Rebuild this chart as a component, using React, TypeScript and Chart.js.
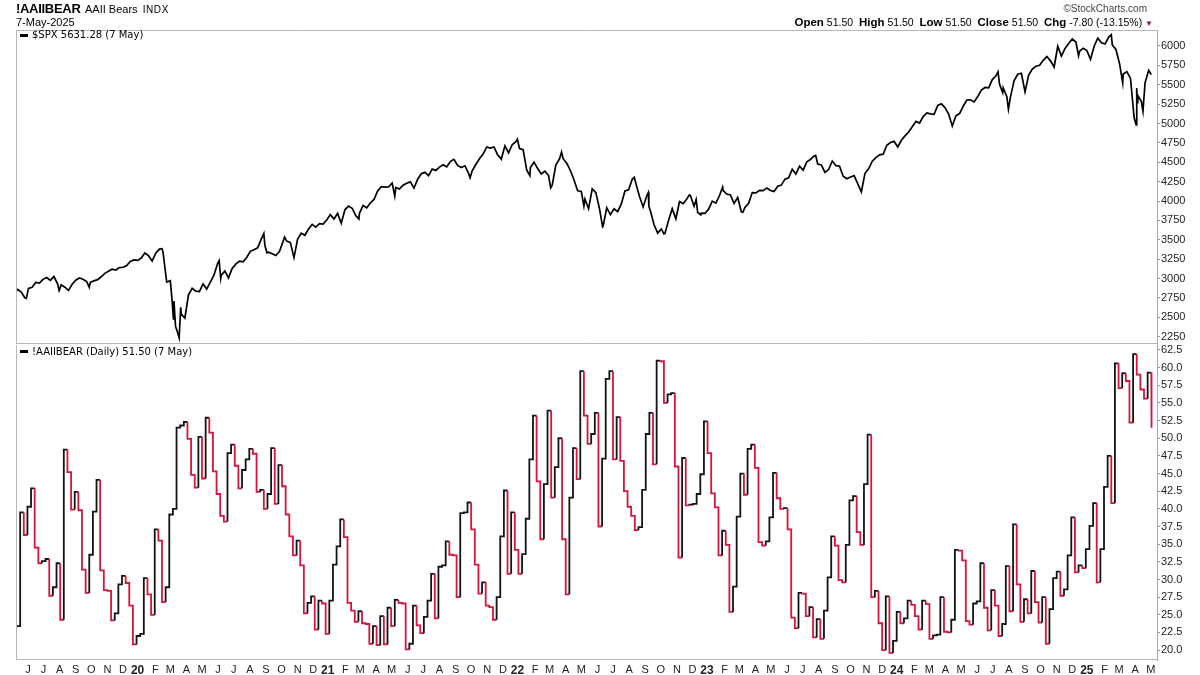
import React, { useEffect, useRef } from 'react';
import { Chart, registerables } from 'chart.js';
Chart.register(...registerables);

// ---------- data ----------
const chartStartDate = '2019-05-14';
const chartSpanDays = 2196;

// S&P 500 weekly closes (Fridays) from 2019-05-17
const spxFirstFriday = '2019-05-17';
const spxWeekly = [
  2860, 2826, 2752, 2873, 2887, 2950, 2942, 2990, 3014, 2977, 3026, 2932, 2919, 2889, 2847, 2926, 2979, 3007, 2992, 2962, 2952, 2970, 2986, 3023, 3067, 3093, 3120, 3110, 3141, 3146, 3169, 3221, 3240,
  3235, 3265, 3330, 3295, 3226, 3328, 3380, 3338, 2954, 2972, 2711, 2305, 2541, 2489, 2790, 2875, 2837, 2831, 2930, 2864, 2955, 3044, 3194, 3041, 3098, 3009, 3130, 3185, 3225, 3216, 3271, 3351, 3373, 3397, 3508, 3427, 3341, 3319, 3298, 3348, 3477, 3484, 3465, 3270, 3509, 3585, 3558, 3638, 3699, 3663, 3709, 3703, 3756,
  3825, 3768, 3841, 3714, 3887, 3935, 3907, 3811, 3842, 3943, 3913, 3975, 4020, 4129, 4185, 4180, 4181, 4233, 4174, 4156, 4204, 4230, 4247, 4166, 4281, 4352, 4370, 4327, 4412, 4395, 4437, 4468, 4442, 4509, 4535, 4459, 4433, 4455, 4357, 4391, 4471, 4545, 4605, 4698, 4683, 4698, 4595, 4538, 4712, 4621, 4726, 4766,
  4677, 4663, 4398, 4432, 4501, 4419, 4349, 4385, 4329, 4204, 4463, 4543, 4546, 4488, 4393, 4272, 4132, 4123, 4024, 3901, 4158, 4109, 3901, 3675, 3912, 3825, 3899, 3863, 3962, 4130, 4145, 4280, 4228, 4058, 3924, 4067, 3873, 3693, 3586, 3640, 3583, 3753, 3901, 3771, 3993, 3965, 4026, 4072, 3934, 3852, 3845, 3840,
  3895, 3999, 3973, 4071, 4136, 4090, 4079, 3970, 4046, 3862, 3917, 3971, 4109, 4105, 4138, 4134, 4169, 4136, 4124, 4192, 4205, 4282, 4299, 4410, 4348, 4450, 4399, 4505, 4536, 4582, 4478, 4464, 4370, 4406, 4516, 4457, 4450, 4320, 4288, 4309, 4328, 4224, 4117, 4358, 4415, 4514, 4559, 4595, 4604, 4719, 4755, 4770,
  4697, 4784, 4840, 4891, 4959, 5027, 5006, 5089, 5137, 5124, 5117, 5234, 5254, 5204, 5123, 4967, 5100, 5128, 5223, 5303, 5305, 5278, 5347, 5432, 5465, 5460, 5567, 5615, 5505, 5459, 5347, 5344, 5554, 5635, 5648, 5408, 5626, 5703, 5738, 5751, 5815, 5865, 5808, 5729, 5996, 5871, 5969, 6032, 6090, 6051, 5931, 5971,
  5942, 5827, 5997, 6101, 6041, 6026, 6115, 6013, 5955, 5770, 5639, 5668, 5581, 5074, 5363, 5283, 5525, 5687,
];
// extra daily closes (turning points)
const spxExtraDates = [
  '2019-05-14', '2019-06-03', '2019-08-05', '2019-10-02', '2020-02-19', '2020-03-09', '2020-03-12', '2020-03-16', '2020-03-23', '2020-03-26',
  '2020-06-08', '2020-06-11', '2020-09-02', '2020-09-08', '2020-10-12', '2021-03-04', '2021-05-12', '2021-09-02', '2021-10-04', '2021-11-30',
  '2022-01-03', '2022-01-27', '2022-03-08', '2022-03-29', '2022-05-11', '2022-06-16', '2022-08-16', '2022-09-12', '2022-09-13', '2022-10-12',
  '2022-11-30', '2022-12-13', '2022-12-22', '2023-02-02', '2023-03-13', '2023-07-31', '2024-07-16', '2024-07-25', '2024-08-05', '2024-12-18',
  '2025-02-19', '2025-03-13', '2025-04-08', '2025-04-09', '2025-04-10', '2025-04-21', '2025-05-07',
];
const spxExtraValues = [
  2834, 2744, 2845, 2888, 3386, 2747, 2481, 2386, 2237, 2630,
  3232, 3002, 3581, 3332, 3534, 3768, 4063, 4537, 4300, 4567,
  4797, 4327, 4171, 4632, 3935, 3667, 4305, 4110, 3933, 3577,
  4080, 4020, 3822, 4180, 3856, 4589, 5667, 5399, 5186, 5872,
  6144, 5522, 4983, 5457, 5268, 5158, 5631,
];

// AAII bears (%), weekly readings ending 2025-05-07
const bearsInitial = 23.4;
const bearsFirstDate = '2019-05-22';
const bearsWeekly = [
  39.5, 36.3, 40.3, 42.9, 34.5, 32.3, 32.6, 32.9, 27.7, 28.9,
  32.3, 24.3, 48.4, 45.2, 39.9, 42.4, 39.8, 31.4, 28.1, 33.5,
  39.6, 44.1, 31.3, 28.5, 28.4, 24.2, 25.2, 29.3, 30.5, 29.5,
  26.3, 20.8, 22.0, 22.3, 30.2, 27.9, 25.0, 37.1, 35.5, 26.8,
  28.9, 39.2, 40.0, 51.5, 51.8, 52.3, 49.9, 44.8, 43.0, 50.2,
  44.3, 52.9, 50.8, 45.3, 42.1, 39.0, 38.2, 47.9, 49.1, 46.1,
  42.9, 45.5, 47.0, 48.5, 47.8, 42.4, 42.7, 40.0, 42.1, 48.6,
  40.7, 46.2, 43.2, 39.2, 36.1, 33.4, 35.5, 32.0,
  25.2, 26.7, 27.6, 22.9, 27.0, 26.6, 22.3, 27.0, 32.1, 34.7,
  38.5, 36.0, 26.7, 25.6, 24.0, 25.5, 23.8, 23.7, 20.9, 23.4,
  20.7, 24.8, 20.8, 26.0, 23.4, 27.1, 26.7, 26.6, 20.1, 20.9,
  26.3, 23.5, 22.4, 24.7, 27.0, 30.8, 24.5, 31.8, 32.0, 35.4,
  33.5, 33.4, 27.5, 39.4, 39.5, 40.9, 37.1, 32.1, 28.0, 29.6,
  26.3, 26.1, 24.3, 27.5, 36.1, 42.6, 30.8, 39.5, 34.2, 30.8,
  33.6, 38.6, 47.0, 53.2, 43.9, 35.7, 43.5, 53.9, 41.6, 45.9,
  50.0, 35.7, 27.9, 41.6, 48.6, 44.2, 59.5, 53.2, 49.2,
  50.6, 53.6, 37.5, 47.1, 58.4, 59.5, 47.0, 53.0, 46.8, 42.5,
  40.3, 39.0, 37.0, 37.4, 42.7, 50.6, 53.6, 46.3, 61.0, 60.9,
  55.0, 56.2, 56.4, 46.0, 33.1, 47.2, 40.5, 40.6, 40.7, 42.1,
  44.9, 52.4, 47.9, 42.2, 40.2, 33.4, 36.9, 34.9, 25.4, 29.0,
  38.9, 45.0, 42.0, 48.5, 49.1, 45.8, 35.3, 34.8, 35.4, 38.8,
  45.1, 41.5, 40.0, 40.1, 37.1, 24.6, 23.1, 28.1, 28.0, 24.8,
  26.1, 21.8, 24.4, 21.6, 25.6, 30.3, 36.1, 34.8, 29.9, 29.6,
  34.9, 41.2, 41.8, 36.7, 34.9, 43.5, 50.5, 27.5,
  28.4, 23.8, 20.0, 27.6, 19.6, 21.3, 25.4, 23.8, 24.5, 27.0,
  26.4, 24.8, 22.9, 27.0, 26.5, 21.6, 22.1, 22.2, 27.5, 22.6,
  22.5, 24.3, 34.2, 34.1, 32.7, 24.1, 23.6, 26.6, 26.9, 32.3,
  26.0, 22.8, 28.5, 26.3, 22.0, 23.7, 31.9, 25.5, 37.8, 29.3,
  24.0, 27.2, 25.2, 31.2, 26.8, 23.9, 27.5, 20.9, 25.8, 30.2,
  31.1, 27.7, 28.6, 33.4, 38.8, 31.0, 32.0, 31.6, 34.3, 37.6,
  40.8, 29.6, 34.3, 43.1, 47.5, 40.8,
  60.6, 57.1, 59.2, 58.1, 52.2, 61.9, 59.0, 56.9, 55.6, 59.3, 51.5,
];

const spxTicks = [2250, 2500, 2750, 3000, 3250, 3500, 3750, 4000, 4250, 4500, 4750, 5000, 5250, 5500, 5750, 6000];
const bearTicks = [20, 22.5, 25, 27.5, 30, 32.5, 35, 37.5, 40, 42.5, 45, 47.5, 50, 52.5, 55, 57.5, 60, 62.5];
const monthLetters = ['J', 'F', 'M', 'A', 'M', 'J', 'J', 'A', 'S', 'O', 'N', 'D'];

// ---------- helpers ----------
const DAY = 864e5;
const d = (s: string) => Math.round(Date.parse(s + 'T00:00:00Z') / DAY);
const xMin = d(chartStartDate);
const xMax = xMin + chartSpanDays;
const BLACK = '#141414';
const RED = '#d8143c';
const FONT = '"Liberation Sans", Arial, sans-serif';
const LEG_FONT = '"DejaVu Sans", Verdana, sans-serif';

function buildSpx() {
  const pts: { x: number; y: number }[] = [];
  const s0 = d(spxFirstFriday);
  spxWeekly.forEach((v, i) => pts.push({ x: s0 + 7 * i, y: v }));
  spxExtraDates.forEach((ds, i) => pts.push({ x: d(ds), y: spxExtraValues[i] }));
  pts.sort((a, b) => a.x - b.x);
  return pts;
}

function buildBears() {
  const pts: { x: number; y: number }[] = [];
  const cols: string[] = [];
  const b0 = d(bearsFirstDate);
  let prev = bearsInitial;
  let color = BLACK;
  pts.push({ x: xMin, y: prev });
  bearsWeekly.forEach((v, i) => {
    const x = b0 + 7 * i;
    pts.push({ x, y: prev });
    cols.push(color);
    const c = v > prev ? BLACK : v < prev ? RED : color;
    pts.push({ x, y: v });
    cols.push(c);
    color = c;
    prev = v;
  });
  pts.push({ x: b0 + 7 * (bearsWeekly.length - 1) + 1, y: prev });
  cols.push(color);
  return { pts, cols };
}

function buildMonthTicks() {
  const out: { value: number; label: string; major: boolean }[] = [];
  for (let y = 2019; y <= 2025; y++) {
    for (let m = 0; m < 12; m++) {
      const base = Date.UTC(y, m, 1) / DAY;
      const v = base + (m === 0 ? 2 : 5);
      if (base < xMin || v > xMax - 4) continue;
      out.push({ value: v, label: m === 0 ? String(y).slice(2) : monthLetters[m], major: m === 0 });
    }
  }
  return out;
}

const framePlugin = (drawTop: boolean) => ({
  id: 'frame',
  afterDraw(chart: any) {
    const { ctx, chartArea: a } = chart;
    ctx.save();
    ctx.strokeStyle = '#b8b8b8';
    ctx.lineWidth = 1;
    ctx.beginPath();
    ctx.moveTo(a.left + 0.5, a.top);
    ctx.lineTo(a.left + 0.5, a.bottom);
    if (drawTop) {
      ctx.moveTo(a.left, a.top + 0.5);
      ctx.lineTo(a.right, a.top + 0.5);
    }
    ctx.moveTo(a.left, a.bottom - 0.5);
    ctx.lineTo(a.right, a.bottom - 0.5);
    ctx.stroke();
    ctx.restore();
  },
});

const zeroPad = (s: any) => {
  s.paddingTop = 0;
  s.paddingBottom = 0;
  s.paddingLeft = 0;
  s.paddingRight = 0;
};

function yAxis(min: number, max: number, ticks: number[], fmt: (v: number) => string) {
  return {
    position: 'right',
    min,
    max,
    afterBuildTicks: (s: any) => {
      s.ticks = ticks.map((v) => ({ value: v }));
    },
    afterFit: (s: any) => {
      s.width = 43;
      zeroPad(s);
    },
    grid: { drawOnChartArea: false, drawTicks: true, tickLength: 3, color: '#999' },
    border: { display: true, color: '#aaa', dash: [1, 2] },
    ticks: {
      padding: 1,
      color: '#222',
      font: { family: FONT, size: 11 },
      callback: (v: number) => fmt(v),
    },
  };
}

export default function App() {
  const topRef = useRef<HTMLCanvasElement>(null);
  const botRef = useRef<HTMLCanvasElement>(null);

  useEffect(() => {
    const spx = buildSpx();
    const bears = buildBears();
    const months = buildMonthTicks();

    const top = new Chart(topRef.current as HTMLCanvasElement, {
      type: 'line',
      data: {
        datasets: [
          { data: spx, borderColor: '#000', borderWidth: 1.7, pointRadius: 0, tension: 0, fill: false },
        ],
      },
      options: {
        animation: false,
        responsive: false,
        maintainAspectRatio: false,
        layout: { padding: { left: 16, top: 30, right: 0, bottom: 1 } },
        plugins: { legend: { display: false }, tooltip: { enabled: false } },
        scales: {
          x: { type: 'linear', min: xMin, max: xMax, display: false },
          y: yAxis(2156, 6206, spxTicks, (v) => String(v)) as any,
        },
      } as any,
      plugins: [framePlugin(true)],
    });

    const bot = new Chart(botRef.current as HTMLCanvasElement, {
      type: 'line',
      data: {
        datasets: [
          {
            data: bears.pts,
            borderColor: BLACK,
            borderWidth: 1.8,
            pointRadius: 0,
            tension: 0,
            fill: false,
            segment: { borderColor: (ctx: any) => bears.cols[ctx.p0DataIndex] },
          },
        ],
      },
      options: {
        animation: false,
        responsive: false,
        maintainAspectRatio: false,
        layout: { padding: { left: 16, top: 4, right: 0, bottom: 0 } },
        plugins: { legend: { display: false }, tooltip: { enabled: false } },
        scales: {
          x: {
            type: 'linear',
            min: xMin,
            max: xMax,
            afterBuildTicks: (s: any) => {
              s.ticks = months.map((t) => ({ value: t.value }));
            },
            afterFit: (s: any) => {
              s.height = 15;
              zeroPad(s);
            },
            grid: { display: false, drawTicks: false },
            border: { display: false },
            ticks: {
              autoSkip: false,
              maxRotation: 0,
              minRotation: 0,
              padding: 3,
              color: '#222',
              font: (ctx: any) => {
                const t = months[ctx.index];
                return t && t.major
                  ? { family: FONT, size: 12, weight: 'bold' }
                  : { family: FONT, size: 11, weight: 'normal' };
              },
              callback: (_v: number, i: number) => (months[i] ? months[i].label : ''),
            },
          },
          y: yAxis(18.6, 63.2, bearTicks, (v) => v.toFixed(1)) as any,
        },
      } as any,
      plugins: [framePlugin(false)],
    });

    return () => {
      top.destroy();
      bot.destroy();
    };
  }, []);

  const abs = (o: any) => ({ position: 'absolute', whiteSpace: 'nowrap', ...o });
  const lbl = { fontSize: 11.5, fontWeight: 'bold' } as any;

  return (
    <div
      style={{
        position: 'absolute',
        left: 0,
        top: 0,
        width: 1200,
        height: 675,
        background: '#fff',
        overflow: 'hidden',
        fontFamily: FONT,
        color: '#000',
      }}
    >
      <canvas ref={topRef} width={1200} height={345} style={{ position: 'absolute', left: 0, top: 0, width: 1200, height: 345 }} />
      <canvas ref={botRef} width={1200} height={334} style={{ position: 'absolute', left: 0, top: 341, width: 1200, height: 334 }} />

      <div style={abs({ left: 16, top: 2, fontSize: 13, fontWeight: 'bold', lineHeight: '13px', letterSpacing: -0.3 })}>!AAIIBEAR</div>
      <div style={abs({ left: 85, top: 4, fontSize: 11, lineHeight: '11px' })}>
        AAII Bears <span style={{ fontSize: 10, letterSpacing: 0.6, marginLeft: 2 }}>INDX</span>
      </div>
      <div style={abs({ left: 16, top: 17, fontSize: 11, lineHeight: '11px' })}>7-May-2025</div>

      <div style={abs({ right: 53, top: 4, fontSize: 10, lineHeight: '10px', color: '#444' })}>©StockCharts.com</div>
      <div style={abs({ right: 47, top: 16, fontSize: 10.5, lineHeight: '12px' })}>
        <span style={lbl}>Open</span> 51.50&nbsp; <span style={lbl}>High</span> 51.50&nbsp; <span style={lbl}>Low</span> 51.50&nbsp;{' '}
        <span style={lbl}>Close</span> 51.50&nbsp; <span style={lbl}>Chg</span> -7.80 (-13.15%){' '}
        <span style={{ color: '#a0103a', fontSize: 8 }}>▼</span>
      </div>

      <div style={abs({ left: 20, top: 34, width: 8, height: 3, background: '#000' })} />
      <div style={abs({ left: 32, top: 30, fontFamily: LEG_FONT, fontSize: 10, lineHeight: '10px' })}>$SPX 5631.28 (7 May)</div>

      <div style={abs({ left: 20, top: 350, width: 8, height: 3, background: '#000' })} />
      <div style={abs({ left: 32, top: 347, fontFamily: LEG_FONT, fontSize: 10, lineHeight: '10px' })}>
        !AAIIBEAR (Daily) 51.50 (7 May)
      </div>
    </div>
  );
}
